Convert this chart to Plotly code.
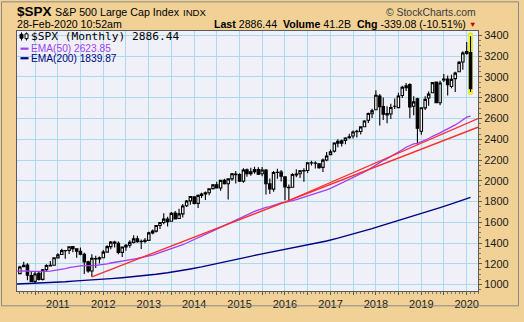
import pandas as pd
import plotly.graph_objects as go

# ---------------------------------------------------------------- data
symbol = "$SPX"
name = "S&P 500 Large Cap Index"
exchange = "INDX"
stamp = "28-Feb-2020 10:52am"
last_px = 2886.44
volume = "41.2B"
chg = -339.08
chg_pct = -10.51
ema50_last = 2623.85
ema200_last = 1839.87

first_month = "2010-03-01"  # monthly bars, Mar 2010 .. Feb 2020

opens = [
    1105.4, 1171.2, 1188.6, 1087.3, 1031.1, 1107.5, 1049.7, 1143.5, 1185.7, 1186.6,
    1257.6, 1289.1, 1328.6, 1329.5, 1365.2, 1345.2, 1320.6, 1292.6, 1219.1, 1131.2, 1251.0, 1246.9,
    1258.9, 1312.5, 1365.9, 1408.5, 1397.9, 1309.9, 1362.3, 1379.3, 1406.5, 1440.9, 1412.2, 1416.2,
    1426.2, 1498.1, 1514.7, 1569.2, 1597.6, 1631.7, 1609.8, 1689.4, 1636.0, 1681.3, 1758.7, 1806.6,
    1845.9, 1782.7, 1857.7, 1874.0, 1884.4, 1923.9, 1962.3, 1929.8, 2004.1, 1971.4, 2018.2, 2065.8,
    2058.9, 1996.7, 2105.2, 2067.6, 2087.4, 2108.6, 2067.0, 2104.5, 1970.1, 1919.7, 2080.8, 2082.9,
    2038.2, 1936.9, 1937.1, 2056.6, 2067.2, 2093.9, 2099.3, 2173.2, 2171.3, 2164.3, 2128.7, 2200.2,
    2251.6, 2285.6, 2380.1, 2362.3, 2388.5, 2415.7, 2431.4, 2477.1, 2474.4, 2521.2, 2583.2, 2645.1,
    2683.7, 2816.5, 2715.2, 2633.5, 2643.0, 2718.7, 2705.0, 2821.2, 2897.0, 2926.3, 2717.6, 2790.5,
    2477.0, 2702.3, 2798.2, 2848.6, 2952.3, 2751.5, 2971.4, 2980.3, 2909.0, 2983.7, 3050.7, 3143.9,
    3244.7, 3235.7,
]
highs = [
    1180.2, 1219.8, 1205.1, 1131.2, 1121.0, 1129.2, 1148.9, 1196.1, 1227.1, 1262.6,
    1302.7, 1344.1, 1332.3, 1366.4, 1370.6, 1345.2, 1356.5, 1307.4, 1229.3, 1292.7, 1277.6, 1269.4,
    1333.5, 1378.0, 1419.2, 1422.4, 1415.3, 1363.5, 1391.7, 1426.7, 1474.5, 1471.0, 1434.3, 1448.0,
    1509.9, 1530.9, 1570.3, 1597.6, 1687.2, 1654.2, 1698.8, 1709.7, 1729.9, 1775.2, 1813.6, 1849.4,
    1850.8, 1867.9, 1884.0, 1897.3, 1924.0, 1968.2, 1991.4, 2005.0, 2019.3, 2018.2, 2075.8, 2093.6,
    2072.4, 2119.6, 2117.5, 2125.9, 2134.7, 2129.9, 2132.8, 2112.7, 2020.9, 2094.3, 2116.5, 2104.3,
    2038.2, 1963.0, 2072.2, 2111.1, 2103.5, 2120.6, 2177.1, 2193.8, 2187.9, 2169.6, 2214.1, 2277.5,
    2301.0, 2371.5, 2401.0, 2398.2, 2418.7, 2453.8, 2484.0, 2490.9, 2519.4, 2583.0, 2657.7, 2695.0,
    2872.9, 2836.0, 2801.9, 2717.5, 2742.2, 2791.5, 2848.0, 2916.5, 2940.9, 2939.9, 2815.2, 2800.2,
    2709.0, 2813.5, 2860.3, 2949.5, 2954.1, 2964.2, 3028.0, 3013.6, 3022.0, 3050.1, 3154.3, 3247.9,
    3337.8, 3393.5,
]
lows = [
    1101.0, 1170.7, 1040.8, 1028.3, 1010.9, 1039.7, 1039.7, 1131.9, 1173.0, 1186.6,
    1257.6, 1289.1, 1249.1, 1294.7, 1311.8, 1258.1, 1282.9, 1101.5, 1114.2, 1074.8, 1158.7, 1202.4,
    1258.9, 1312.5, 1340.0, 1357.4, 1292.0, 1266.7, 1325.4, 1354.7, 1396.6, 1403.3, 1343.4, 1398.1,
    1426.2, 1485.0, 1501.5, 1536.0, 1581.3, 1560.3, 1604.6, 1627.5, 1633.4, 1646.5, 1746.2, 1768.0,
    1770.5, 1737.9, 1834.4, 1814.4, 1859.8, 1916.0, 1930.7, 1904.8, 1964.0, 1820.7, 2001.0, 1972.6,
    1988.1, 1980.9, 2039.7, 2048.4, 2067.9, 2056.3, 2044.0, 1867.0, 1871.9, 1893.7, 2019.4, 1993.3,
    1812.3, 1810.1, 1937.1, 2033.8, 2025.9, 1991.7, 2074.0, 2147.6, 2119.1, 2114.7, 2083.8, 2187.4,
    2245.1, 2271.7, 2322.3, 2329.0, 2352.7, 2405.7, 2407.7, 2417.4, 2446.6, 2520.4, 2557.5, 2605.5,
    2682.4, 2532.7, 2585.9, 2553.8, 2594.6, 2692.0, 2699.0, 2796.3, 2864.1, 2603.5, 2631.1, 2346.6,
    2444.0, 2681.8, 2722.3, 2848.6, 2750.5, 2728.8, 2952.2, 2822.1, 2891.9, 2855.9, 3050.7, 3070.3,
    3214.6, 2855.8,
]
closes = [
    1169.43, 1186.69, 1089.41, 1030.71, 1101.60, 1049.33, 1141.20, 1183.26, 1180.55, 1257.64,
    1286.12, 1327.22, 1325.83, 1363.61, 1345.20, 1320.64, 1292.28, 1218.89, 1131.42, 1253.30, 1246.96, 1257.60,
    1312.41, 1365.68, 1408.47, 1397.91, 1310.33, 1362.16, 1379.32, 1406.58, 1440.67, 1412.16, 1416.18, 1426.19,
    1498.11, 1514.68, 1569.19, 1597.57, 1630.74, 1606.28, 1685.73, 1632.97, 1681.55, 1756.54, 1805.81, 1848.36,
    1782.59, 1859.45, 1872.34, 1883.95, 1923.57, 1960.23, 1930.67, 2003.37, 1972.29, 2018.05, 2067.56, 2058.90,
    1994.99, 2104.50, 2067.89, 2085.51, 2107.39, 2063.11, 2103.84, 1972.18, 1920.03, 2079.36, 2080.41, 2043.94,
    1940.24, 1932.23, 2059.74, 2065.30, 2096.95, 2098.86, 2173.60, 2170.95, 2168.27, 2126.15, 2198.81, 2238.83,
    2278.87, 2363.64, 2362.72, 2384.20, 2411.80, 2423.41, 2470.30, 2471.65, 2519.36, 2575.26, 2647.58, 2673.61,
    2823.81, 2713.83, 2640.87, 2648.05, 2705.27, 2718.37, 2816.29, 2901.52, 2913.98, 2711.74, 2760.17, 2506.85,
    2704.10, 2784.49, 2834.40, 2945.83, 2752.06, 2941.76, 2980.38, 2926.46, 2976.74, 3037.56, 3140.98, 3230.78,
    3225.52, 2886.44,
]

# EMA(50), monthly, Feb 2010 .. Feb 2020
ema50_start = "2010-02-01"
ema50 = [
    1130.0,
    1131.5, 1133.7, 1132.0, 1128.0, 1127.0, 1124.0, 1124.7, 1127.0, 1129.1, 1134.1,
    1140.0, 1147.3, 1154.3, 1162.5, 1169.7, 1175.6, 1180.2, 1181.7, 1179.7, 1182.6, 1185.1, 1187.9,
    1192.8, 1199.6, 1207.8, 1215.3, 1219.0, 1224.6, 1230.7, 1237.6, 1245.6, 1252.1, 1258.5, 1265.1,
    1274.2, 1283.6, 1294.8, 1306.7, 1319.4, 1330.6, 1344.5, 1355.8, 1368.6, 1383.8, 1400.4, 1417.9,
    1432.2, 1448.9, 1465.5, 1481.9, 1499.2, 1517.3, 1533.5, 1551.9, 1568.4, 1586.0, 1604.9, 1622.7,
    1637.3, 1655.6, 1671.8, 1688.0, 1704.4, 1718.5, 1733.6, 1742.9, 1749.9, 1762.8, 1775.3, 1785.8,
    1791.8, 1797.3, 1807.6, 1817.7, 1828.6, 1839.2, 1852.3, 1864.8, 1876.7, 1886.5, 1898.7, 1912.0,
    1926.4, 1943.6, 1960.0, 1976.6, 1993.7, 2010.5, 2028.5, 2045.9, 2064.5, 2084.5, 2106.6, 2128.8,
    2156.0, 2177.9, 2196.0, 2213.7, 2233.0, 2252.0, 2274.1, 2298.7, 2322.8, 2338.1, 2354.6, 2360.5,
    2374.0, 2390.1, 2407.5, 2428.6, 2441.3, 2460.9, 2481.3, 2498.6, 2517.4, 2537.8, 2561.4, 2587.6,
    2612.6, ema50_last,
]

# EMA(200), sampled at quarter ends
ema200_dates = [
    "2010-02-01", "2010-03-01", "2010-06-01", "2010-09-01", "2010-12-01",
    "2011-03-01", "2011-06-01", "2011-09-01", "2011-12-01",
    "2012-03-01", "2012-06-01", "2012-09-01", "2012-12-01",
    "2013-03-01", "2013-06-01", "2013-09-01", "2013-12-01",
    "2014-03-01", "2014-06-01", "2014-09-01", "2014-12-01",
    "2015-03-01", "2015-06-01", "2015-09-01", "2015-12-01",
    "2016-03-01", "2016-06-01", "2016-09-01", "2016-12-01",
    "2017-03-01", "2017-06-01", "2017-09-01", "2017-12-01",
    "2018-03-01", "2018-06-01", "2018-09-01", "2018-12-01",
    "2019-03-01", "2019-06-01", "2019-09-01", "2019-12-01",
    "2020-01-01", "2020-02-01",
]
ema200 = [
    1005.0, 1006.6, 1009.4, 1012.0, 1017.8,
    1026.5, 1035.9, 1041.2, 1047.5,
    1056.8, 1065.7, 1075.8, 1085.9,
    1098.9, 1114.1, 1130.4, 1150.3,
    1170.6, 1192.8, 1215.7, 1240.3,
    1264.4, 1288.6, 1309.6, 1332.0,
    1351.1, 1372.8, 1396.4, 1419.8,
    1446.8, 1475.1, 1505.0, 1538.3,
    1573.4, 1606.3, 1643.8, 1673.8,
    1706.3, 1741.0, 1777.1, 1817.3,
    1829.6, ema200_last,
]

# trendlines: pairs of swing-low months, extended to the right edge
trend_a = ("2011-10-01", "2016-02-01")
trend_b = ("2016-02-01", "2018-12-01")

x_start, x_end = "2010-02-06", "2020-04-01"
y_ticks = [1000, 1200, 1400, 1600, 1800, 2000, 2200, 2400, 2600, 2800, 3000, 3200, 3400]
year_ticks = ["2011", "2012", "2013", "2014", "2015", "2016", "2017", "2018", "2019", "2020"]

# ---------------------------------------------------------------- layout geometry
W, H = 524, 322
L, R, T, B = 17, 46, 31, 19
PW, PH = W - L - R, H - T - B


def px(x):
    return (x - L) / PW


def py(y):
    return 1 - (y - T) / PH


TAN = "#f1d195"
PLOT_BG = "#eff0f8"
GRID = "#a9dbec"
AXIS = "#5a5a5a"
PURPLE = "#a040f0"
NAVY = "#000080"
RED = "#ff2a2a"
FONT = "Liberation Sans"

dates = pd.date_range(first_month, periods=len(closes), freq="MS")
ema50_dates = pd.date_range(ema50_start, periods=len(ema50), freq="MS")
low_by_date = dict(zip(dates, lows))


def trend_points(pair):
    d0, d1 = pd.Timestamp(pair[0]), pd.Timestamp(pair[1])
    v0, v1 = low_by_date[d0], low_by_date[d1]
    d_end = pd.Timestamp(x_end)
    slope = (v1 - v0) / (d1 - d0).days
    return [d0, d_end], [v0, v0 + slope * (d_end - d0).days]


fig = go.Figure()

fig.add_trace(go.Candlestick(
    x=dates, open=opens, high=highs, low=lows, close=closes,
    increasing=dict(line=dict(color="black", width=1.1), fillcolor="white"),
    decreasing=dict(line=dict(color="black", width=1.1), fillcolor="black"),
    whiskerwidth=0, showlegend=False, hoverinfo="skip",
))

fig.add_trace(go.Scatter(
    x=ema200_dates, y=ema200, mode="lines",
    line=dict(color=NAVY, width=1.4), showlegend=False, hoverinfo="skip",
))
fig.add_trace(go.Scatter(
    x=ema50_dates, y=ema50, mode="lines",
    line=dict(color=PURPLE, width=1.3), showlegend=False, hoverinfo="skip",
))
for pair in (trend_a, trend_b):
    tx, ty = trend_points(pair)
    fig.add_trace(go.Scatter(
        x=tx, y=ty, mode="lines",
        line=dict(color=RED, width=1.3), showlegend=False, hoverinfo="skip",
    ))

# highlight behind the latest bar
last_d = dates[-1]
shapes = [dict(
    type="rect", xref="x", yref="y", layer="between",
    x0=last_d - pd.Timedelta(days=13), x1=last_d + pd.Timedelta(days=13),
    y0=lows[-1] - 22, y1=highs[-1] + 30,
    fillcolor="#ffff1a", line=dict(color="#d8d800", width=0.8),
)]

# outer frame
shapes.append(dict(
    type="rect", xref="paper", yref="paper",
    x0=px(1.5), x1=px(518.5), y0=py(318.5), y1=py(0.5),
    line=dict(color="#8a8a8a", width=1), fillcolor="rgba(0,0,0,0)",
))

# legend glyphs: candle icon and indicator swatches
shapes += [
    dict(type="line", xref="paper", yref="paper", x0=px(21.5), x1=px(21.5), y0=py(32.5), y1=py(41),
         line=dict(color="black", width=1)),
    dict(type="rect", xref="paper", yref="paper", x0=px(20), x1=px(23), y0=py(38.5), y1=py(34.5),
         fillcolor="black", line=dict(color="black", width=1)),
    dict(type="line", xref="paper", yref="paper", x0=px(26.5), x1=px(26.5), y0=py(32.5), y1=py(41),
         line=dict(color="black", width=1)),
    dict(type="rect", xref="paper", yref="paper", x0=px(25), x1=px(28), y0=py(39), y1=py(34),
         fillcolor="white", line=dict(color="black", width=1)),
    dict(type="line", xref="paper", yref="paper", x0=px(20.5), x1=px(28.5), y0=py(49.5), y1=py(49.5),
         line=dict(color=PURPLE, width=2.2)),
    dict(type="line", xref="paper", yref="paper", x0=px(20.5), x1=px(28.5), y0=py(59.5), y1=py(59.5),
         line=dict(color=NAVY, width=2.2)),
]


def note(text, x, y, size, color="black", anchor="left", family=FONT):
    return dict(
        text=text, x=px(x), y=py(y), xref="paper", yref="paper",
        xanchor=anchor, yanchor="middle", showarrow=False,
        font=dict(family=family, size=size, color=color), borderpad=0,
    )


annotations = [
    note(f"<b>{symbol}</b>", 16, 11, 13.5),
    note(name, 53.5, 11.5, 10.7),
    note(exchange, 181.5, 11.5, 9.6),
    note("\u00a9 StockCharts.com", 476.5, 11.5, 10.4, color="#3a3a3a", anchor="right"),
    note(stamp, 16, 23.5, 10.6),
    note(f"<b>Last</b> {last_px:.2f}  <b>Volume</b> {volume}  <b>Chg</b> {chg:.2f} ({chg_pct:.2f}%)",
         467, 23.5, 10.6, anchor="right"),
    note("\u25bc", 472.5, 24.5, 7.5, color="#c00000", anchor="center"),
    note(f"{symbol} (Monthly) {last_px:.2f}", 29.5, 36.5, 11.2, family="DejaVu Sans Mono"),
    note(f"EMA(50) {ema50_last:.2f}", 29.5, 49.5, 10.2, color=PURPLE),
    note(f"EMA(200) {ema200_last:.2f}", 29.5, 59.5, 10.2, color=NAVY),
]

# Jan and Jul gridlines; labels on January only
x_tickvals, x_ticktext = [], []
for yr in year_ticks:
    x_tickvals += [f"{int(yr) - 1}-07-01", f"{yr}-01-01"]
    x_ticktext += ["", yr]

fig.update_layout(
    width=W, height=H,
    margin=dict(l=L, r=R, t=T, b=B, pad=0),
    paper_bgcolor=TAN, plot_bgcolor=PLOT_BG,
    boxgap=0.0,
    shapes=shapes, annotations=annotations,
    font=dict(family=FONT, size=11, color="#1a1a1a"),
    hovermode=False,
    xaxis=dict(
        type="date", range=[x_start, x_end],
        rangeslider=dict(visible=False),
        tickmode="array", tickvals=x_tickvals, ticktext=x_ticktext,
        showgrid=True, gridcolor=GRID, gridwidth=1,
        ticks="outside", ticklen=3, tickcolor=AXIS,
        minor=dict(dtick="M1", tick0="2010-01-01", ticks="outside", ticklen=2,
                   tickcolor="#777777", showgrid=False),
        showline=True, linecolor=AXIS, linewidth=1, mirror=True,
        zeroline=False, tickfont=dict(size=11, color="#1a1a1a"),
    ),
    yaxis=dict(
        side="right", range=[938, 3443],
        tickmode="array", tickvals=y_ticks,
        showgrid=True, gridcolor=GRID, gridwidth=1,
        ticks="outside", ticklen=3, tickcolor=AXIS,
        minor=dict(dtick=50, tick0=0, ticks="outside", ticklen=2,
                   tickcolor="#777777", showgrid=False),
        showline=True, linecolor=AXIS, linewidth=1, mirror=True,
        zeroline=False, tickfont=dict(size=11, color="#1a1a1a"),
    ),
)

fig.write_html("out.html")
